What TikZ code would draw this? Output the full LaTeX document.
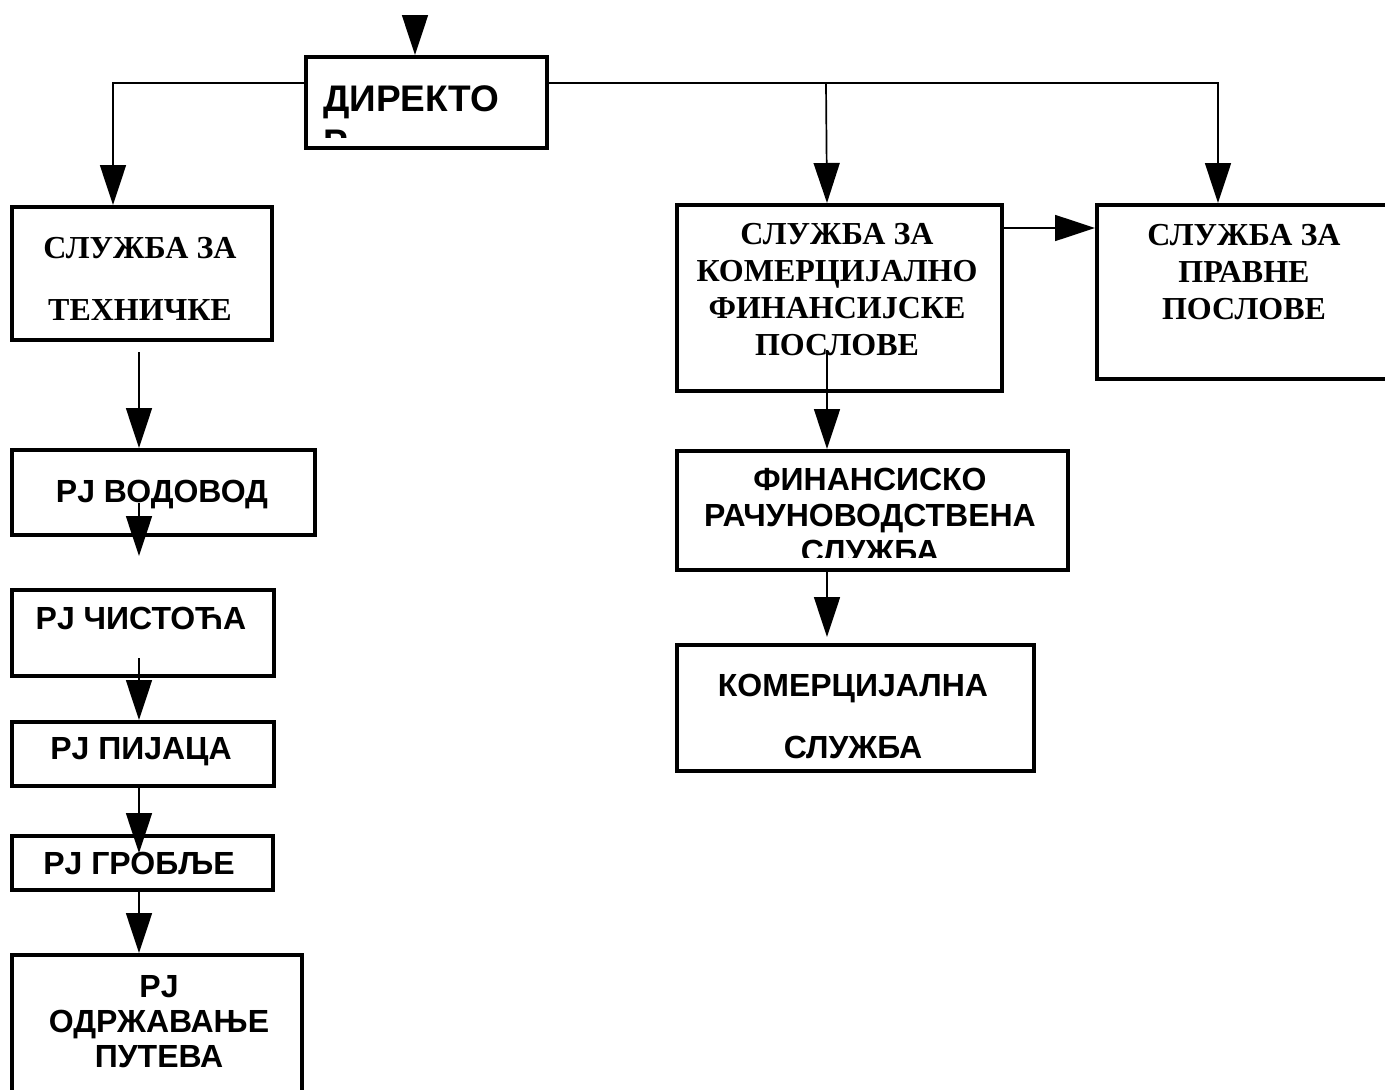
\documentclass[tikz,border=0pt]{standalone}
\usepackage{fontspec}
\newfontfamily\arialfont{Liberation Sans}
\newfontfamily\timesfont{Liberation Serif}
\usetikzlibrary{arrows.meta}
\tikzset{
  unitbox/.style={draw, line width=3.5pt, fill=white, anchor=north west, inner sep=0pt},
  sanslbl/.style={font=\arialfont\bfseries\fontsize{32}{#1}\selectfont, align=center, anchor=north, inner sep=0pt},
  sanslbl/.default=36,
  seriflbl/.style={font=\timesfont\bfseries\fontsize{32}{#1}\selectfont, align=center, anchor=north, inner sep=0pt},
  seriflbl/.default=37,
  link/.style={line width=1.7pt, -{Triangle[length=40pt,width=26pt]}},
}
\begin{document}
\begin{tikzpicture}[x=1pt,y=-1pt]
\useasboundingbox (0,0) rectangle (1385,1090);

% boxes
\node[unitbox, minimum width=241pt, minimum height=91pt] (dir) at (304,55) {};
\node[unitbox, minimum width=260pt, minimum height=133pt] (tech) at (10,205) {};
\node[unitbox, minimum width=303pt, minimum height=85pt] (vod) at (10,448) {};
\node[unitbox, minimum width=262pt, minimum height=86pt] (cis) at (10,588) {};
\node[unitbox, minimum width=262pt, minimum height=64pt] (pij) at (10,720) {};
\node[unitbox, minimum width=261pt, minimum height=54pt] (grob) at (10,834) {};
\node[unitbox, minimum width=290pt, minimum height=160pt] (odr) at (10,953) {};
\node[unitbox, minimum width=325pt, minimum height=186pt] (kom) at (675,203) {};
\node[unitbox, minimum width=320pt, minimum height=174pt] (prav) at (1095,203) {};
\node[unitbox, minimum width=391pt, minimum height=119pt] (fin) at (675,449) {};
\node[unitbox, minimum width=357pt, minimum height=126pt] (kser) at (675,643) {};

% texts
\begin{scope}
\clip (304,55) rectangle (545,137);
\node[font=\arialfont\bfseries\fontsize{37}{44}\selectfont, align=left, anchor=north west, inner sep=0pt] (dirtxt) at (323,85) {ДИРЕКТО\\Р};
\end{scope}
\node[seriflbl=62] (techtxt) at (140,237) {СЛУЖБА ЗА\\ТЕХНИЧКЕ};
\node[sanslbl] (vodtxt) at (162,480) {PJ ВОДОВОД};
\node[sanslbl] (cistxt) at (141,607) {PJ ЧИСТОЋА};
\node[sanslbl] (pijtxt) at (141,737) {PJ ПИЈАЦА};
\node[sanslbl] (grobtxt) at (139,852) {PJ ГРОБЉЕ};
\node[sanslbl=35] (odrtxt) at (159,975) {PJ\\ОДРЖАВАЊЕ\\ПУТЕВА};
\node[seriflbl] (komtxt) at (837,223) {СЛУЖБА ЗА\\КОМЕРЦИЈАЛНО\\ФИНАНСИЈСКЕ\\ПОСЛОВЕ};
\node[seriflbl] (pravtxt) at (1244,224) {СЛУЖБА ЗА\\ПРАВНЕ\\ПОСЛОВЕ};
\begin{scope}
\clip (675,449) rectangle (1066,557);
\node[sanslbl] (fintxt) at (870,468) {ФИНАНСИСКО\\РАЧУНОВОДСТВЕНА\\СЛУЖБА};
\end{scope}
\node[sanslbl=62] (ksertxt) at (853,674) {КОМЕРЦИЈАЛНА\\СЛУЖБА};

% connectors
\coordinate (feed) at (415,15);
\coordinate (busL) at (113,83);
\coordinate (busM) at (826,83);
\coordinate (busR) at (1218,83);
\draw[link] (feed) -- (feed |- dir.north);
\draw[link] (busL -| dir.west) -- (busL) -- (busL |- tech.north);
\draw[link] (dir.east |- busR) -- (busR) -- (busR |- prav.north);
\draw[link] (busM) -- ([xshift=1pt]busM |- kom.north);

\coordinate (t1) at (139,352);
\coordinate (t2) at (139,503);
\coordinate (t2e) at (139,556);
\coordinate (t3) at (139,658);
\coordinate (t4e) at (139,853);
\draw[link] (t1) -- (t1 |- vod.north);
\draw[link] (t2) -- (t2e);
\draw[link] (t3) -- (t3 |- pij.north);
\draw[link] (t4e |- pij.south) -- (t4e);
\draw[link] (t4e |- grob.south) -- (t4e |- odr.north);

\coordinate (kp) at (0,228);
\coordinate (k1) at (827,350);
\coordinate (k2e) at (827,637);
\draw[link] (kom.east |- kp) -- (prav.west |- kp);
\draw[link] (k1) -- (k1 |- fin.north);
\draw[link] (k2e |- fin.south) -- (k2e);
\end{tikzpicture}
\end{document}
